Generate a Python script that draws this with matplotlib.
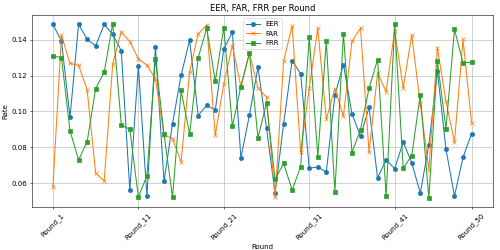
import matplotlib
matplotlib.use("Agg")
import matplotlib.pyplot as plt
import numpy as np

rounds = ["Round_%d" % (i + 1) for i in range(50)]

eer = [0.1486, 0.1393, 0.0967, 0.1486, 0.1404, 0.1366, 0.1486, 0.1430, 0.1340, 0.0559,
       0.1253, 0.0525, 0.1361, 0.0609, 0.0932, 0.1202, 0.1398, 0.0977, 0.1035, 0.1007,
       0.1348, 0.1443, 0.0740, 0.0979, 0.1247, 0.0906, 0.0542, 0.0932, 0.1284, 0.1210,
       0.0683, 0.0689, 0.0662, 0.1089, 0.1262, 0.0987, 0.0861, 0.1023, 0.0628, 0.0730,
       0.0680, 0.0829, 0.0712, 0.0544, 0.0814, 0.1225, 0.0790, 0.0527, 0.0744, 0.0876]

far = [0.0579, 0.1426, 0.1268, 0.1258, 0.1122, 0.0656, 0.0611, 0.1266, 0.1445, 0.1390,
       0.1294, 0.1258, 0.1182, 0.0870, 0.0848, 0.0719, 0.1221, 0.1434, 0.1482, 0.0867,
       0.1154, 0.1368, 0.1139, 0.1327, 0.1131, 0.1079, 0.0520, 0.1281, 0.1478, 0.0772,
       0.1130, 0.1465, 0.0956, 0.1128, 0.0973, 0.1391, 0.1465, 0.0772, 0.1212, 0.1111,
       0.1452, 0.1131, 0.1426, 0.1042, 0.0675, 0.1355, 0.1057, 0.0829, 0.1402, 0.0936]

frr = [0.1309, 0.1301, 0.0891, 0.0729, 0.0829, 0.1128, 0.1219, 0.1490, 0.0926, 0.0899,
       0.0521, 0.0641, 0.1294, 0.0874, 0.0520, 0.1117, 0.0874, 0.1299, 0.1467, 0.1169,
       0.1467, 0.0917, 0.1139, 0.1327, 0.0852, 0.1048, 0.0620, 0.0709, 0.0561, 0.0692,
       0.1417, 0.0748, 0.1393, 0.0550, 0.1435, 0.0770, 0.0898, 0.1129, 0.1290, 0.0525,
       0.1486, 0.0684, 0.0753, 0.1094, 0.0516, 0.1281, 0.0902, 0.1458, 0.1271, 0.1275]

x = np.arange(len(rounds))
tick_idx = [0, 10, 20, 30, 40, 49]

fig, ax = plt.subplots(figsize=(10, 5), dpi=50)
ax.plot(x, eer, marker='o', label='EER')
ax.plot(x, far, marker='x', label='FAR')
ax.plot(x, frr, marker='s', label='FRR')

ax.set_xticks(tick_idx)
ax.set_xticklabels([rounds[i] for i in tick_idx], rotation=45)
ax.set_xlabel('Round')
ax.set_ylabel('Rate')
ax.set_title('EER, FAR, FRR per Round')
ax.legend(loc='upper center')
ax.grid(True)

plt.subplots_adjust(left=0.064, right=0.985, top=0.94, bottom=0.173)
plt.savefig('out.png')
